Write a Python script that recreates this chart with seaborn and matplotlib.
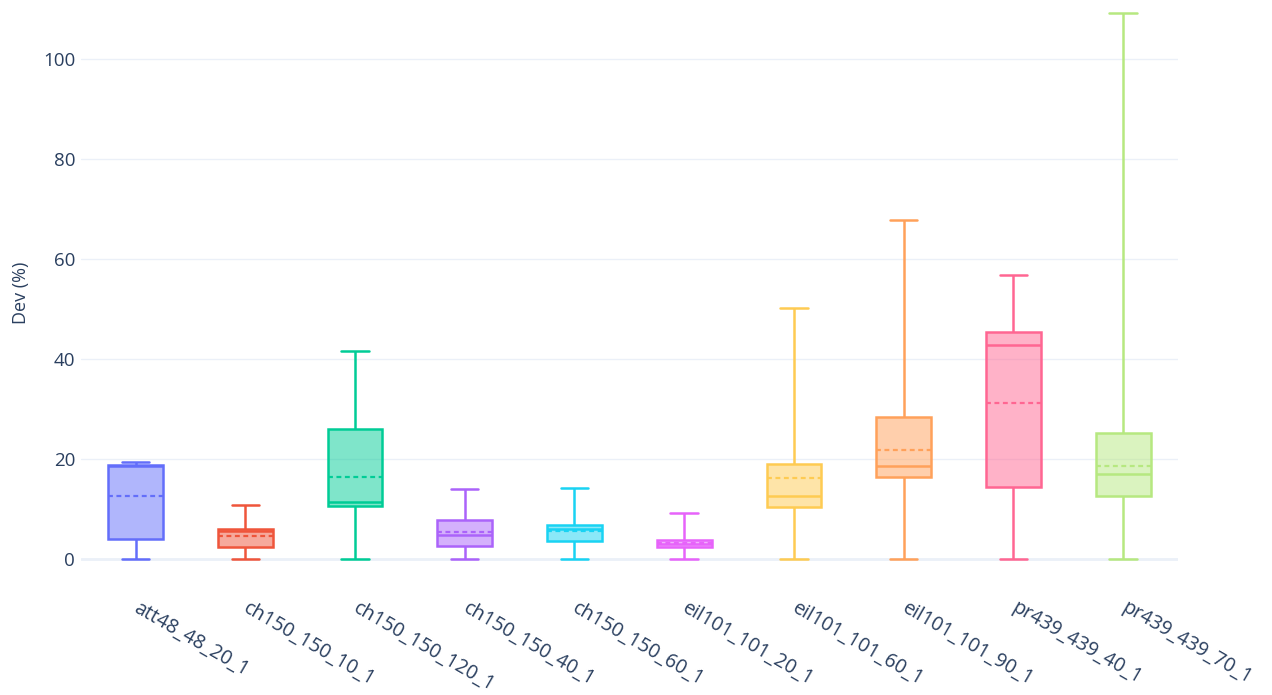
import numpy as np
import pandas as pd
import matplotlib
matplotlib.use("Agg")
import matplotlib.pyplot as plt
import seaborn as sns
from matplotlib.colors import to_rgba

categories = ["att48_48_20_1", "ch150_150_10_1", "ch150_150_120_1", "ch150_150_40_1",
              "ch150_150_60_1", "eil101_101_20_1", "eil101_101_60_1", "eil101_101_90_1",
              "pr439_439_40_1", "pr439_439_70_1"]
mins = [0.0, 0.0, 0.0, 0.0, 0.0, 0.0, 0.0, 0.0, 0.0, 0.0]
q1s = [3.97, 2.29, 10.64, 2.49, 3.64, 2.25, 10.43, 16.25, 14.38, 12.58]
medians = [18.5, 5.45, 11.38, 4.65, 5.99, 2.9, 12.64, 18.53, 42.76, 16.9]
q3s = [18.65, 5.93, 25.9, 7.81, 6.73, 3.65, 19.0, 28.36, 45.4, 25.2]
maxs = [19.26, 10.84, 41.48, 13.94, 14.14, 9.23, 50.24, 67.74, 56.7, 109.1]
means = [12.46, 4.58, 16.36, 5.32, 5.59, 3.05, 16.19, 21.74, 31.1, 18.6]
colors = ["#636EFA", "#EF553B", "#00CC96", "#AB63FA", "#19D3F3",
          "#E763FA", "#FECB52", "#FFA15A", "#FF6692", "#B6E880"]
y_ticks = [0, 20, 40, 60, 80, 100]

rows = []
for c, a, b, m, d, e in zip(categories, mins, q1s, medians, q3s, maxs):
    for v in (a, b, m, d, e):
        rows.append({"cat": c, "val": v})
df = pd.DataFrame(rows)

sns.set_theme(style="white")
plt.rcParams["font.family"] = ["Open Sans", "DejaVu Sans"]
text_color = "#2a3f5f"
grid_color = "#EBF0F8"

fig = plt.figure(figsize=(12.72, 6.95), dpi=100)
ax = fig.add_axes([80.7 / 1272, 1 - 586 / 695, (1178 - 80.7) / 1272, 586 / 695])

for c, col in zip(categories, colors):
    n_before = len(ax.patches)
    sns.boxplot(data=df[df["cat"] == c], x="cat", y="val", order=categories,
                color=col, linecolor=col, saturation=1, width=0.5,
                whis=(0, 100), linewidth=1.8, ax=ax, showfliers=False, zorder=3)
    for p in ax.patches[n_before:]:
        p.set_facecolor(to_rgba(col, 0.5))
        p.set_edgecolor(col)

positions = np.arange(len(categories))
for x, mval, col in zip(positions, means, colors):
    ax.hlines(mval, x - 0.25, x + 0.25, colors=col, linestyles=(0, (2.2, 1.6)),
              linewidth=1.6, zorder=4)

ax.set_ylim(-5.46, 111.74)
ax.set_xlim(-0.5, len(categories) - 0.5)
ax.set_yticks(y_ticks)
ax.yaxis.grid(True, color=grid_color, linewidth=1)
ax.xaxis.grid(False)
ax.set_axisbelow(True)
ax.axhline(0, color=grid_color, linewidth=2, zorder=1)
for s in ax.spines.values():
    s.set_visible(False)

ax.tick_params(axis="y", length=0, pad=4, labelsize=13.5, labelcolor=text_color)
ax.tick_params(axis="x", length=0, pad=15, labelsize=14.1, labelcolor=text_color)
ax.set_xticks(positions)
ax.set_xticklabels(categories, rotation=-30, ha="left", va="center",
                   rotation_mode="anchor")
ax.set_xlabel("")
ax.set_ylabel("Dev (%)", fontsize=13, color=text_color, labelpad=9)

fig.savefig("out.png", dpi=100, facecolor="white")
